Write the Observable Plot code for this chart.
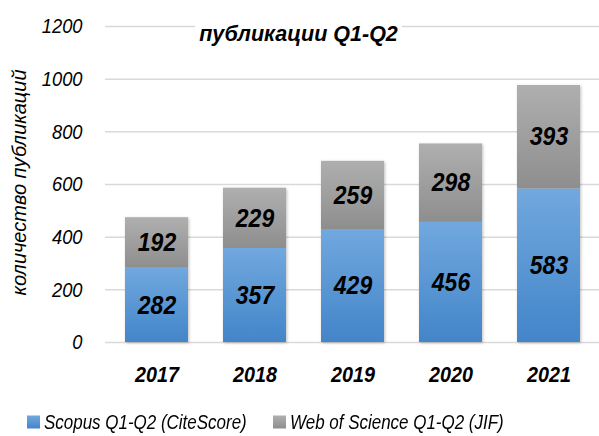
<!DOCTYPE html>
<html>
<head>
<meta charset="utf-8">
<script src="https://cdn.jsdelivr.net/npm/d3@7"></script>
<script src="https://cdn.jsdelivr.net/npm/@observablehq/plot@0.6"></script>
<style>
  body { margin: 0; background: #fff; }
  #chart { width: 599px; position: relative; }
  .legend { position: relative; height: 36px; width: 599px;
    font-family: "Liberation Sans", Arial, sans-serif;
    font-style: italic; font-size: 19.5px; color: #000; }
  .legend .item { position: absolute; top: 22px; transform: translateY(-50%); display: flex; align-items: center; white-space: nowrap; }
  .legend .sw { width: 13px; height: 13px; margin-right: 4px; }
  .legend .txt { display: inline-block; transform: scaleX(0.87); transform-origin: left center; }
</style>
</head>
<body>
<div id="chart"></div>
<script>
const years = ["2017", "2018", "2019", "2020", "2021"];
const seriesNames = ["Scopus Q1-Q2 (CiteScore)", "Web of Science Q1-Q2 (JIF)"];
const scopus = [282, 357, 429, 456, 583];
const wos = [192, 229, 259, 298, 393];
const yTicks = [0, 200, 400, 600, 800, 1000, 1200];
const title = "публикации Q1-Q2";
const yLabel = "количество публикаций";

const data = [];
years.forEach((yr, i) => {
  data.push({year: yr, series: seriesNames[0], value: scopus[i]});
  data.push({year: yr, series: seriesNames[1], value: wos[i]});
});

const font = '"Liberation Sans", Arial, sans-serif';

const plot = Plot.plot({
  width: 599,
  height: 400,
  marginLeft: 105,
  marginRight: 0,
  marginTop: 26,
  marginBottom: 58,
  style: {fontFamily: font, fontStyle: "italic", color: "#000", background: "#fff"},
  x: {domain: years, paddingInner: 0.36, paddingOuter: 0.18, label: null},
  y: {domain: [0, 1200], label: null},
  color: {domain: seriesNames, range: ["url(#gBlue)", "url(#gGray)"]},
  marks: [
    Plot.gridY(yTicks, {stroke: "#d9d9d9", strokeOpacity: 1, strokeWidth: 1.5}),
    Plot.axisY(yTicks, {tickSize: 0, tickPadding: 23, fontSize: 21, label: null, tickFormat: d => String(d)}),
    Plot.axisX({tickSize: 0, tickPadding: 24, fontSize: 21.5, fontWeight: "bold", label: null}),
    Plot.barY(data, {x: "year", y: "value", fill: "series", className: "bars"}),
    Plot.text(data, Plot.stackY({x: "year", y: "value", text: "value", fontSize: 25.5, fontWeight: "bold", fill: "#000", className: "barlabels"})),
    Plot.text([title], {frameAnchor: "top", dx: -54, dy: -1, fontSize: 21.5, fontWeight: "bold", fill: "#000", className: "title"}),
    Plot.text([yLabel], {frameAnchor: "left", textAnchor: "middle", rotate: -90, dx: -86, dy: -2, fontSize: 20, fill: "#000"})
  ]
});

const svg = d3.select(plot);
const defs = svg.insert("defs", ":first-child");
const gb = defs.append("linearGradient").attr("id", "gBlue").attr("x1", 0).attr("y1", 0).attr("x2", 0).attr("y2", 1);
gb.append("stop").attr("offset", "0%").attr("stop-color", "#71a8de");
gb.append("stop").attr("offset", "100%").attr("stop-color", "#4385c9");
const gg = defs.append("linearGradient").attr("id", "gGray").attr("x1", 0).attr("y1", 0).attr("x2", 0).attr("y2", 1);
gg.append("stop").attr("offset", "0%").attr("stop-color", "#afafaf");
gg.append("stop").attr("offset", "100%").attr("stop-color", "#8e8e8e");
const f = defs.append("filter").attr("id", "shadow").attr("x", "-20%").attr("y", "-20%").attr("width", "140%").attr("height", "140%");
f.append("feDropShadow").attr("dx", 1).attr("dy", 1).attr("stdDeviation", 1.5).attr("flood-color", "#000").attr("flood-opacity", 0.25);
svg.selectAll("g.bars").attr("filter", "url(#shadow)");

// narrow (Arial Narrow-like) rendering of the condensed texts
function squeeze(sel, k) {
  sel.each(function() {
    const t = this.getAttribute("transform") || "";
    this.setAttribute("transform", t + ` scale(${k},1)`);
  });
}
squeeze(svg.selectAll("g[aria-label='y-axis tick label'] text"), 0.87);
squeeze(svg.selectAll("g[aria-label='x-axis tick label'] text"), 0.92);
squeeze(svg.selectAll("g.barlabels text"), 0.9);

document.getElementById("chart").appendChild(plot);

// white box behind the title, hiding the top gridline like in the original
const titleText = svg.select("g.title text").node();
if (titleText) {
  const bb = titleText.getBBox();
  const g = titleText.parentNode;
  d3.select(g).insert("rect", "text")
    .attr("x", bb.x - 4).attr("y", bb.y).attr("width", bb.width + 8).attr("height", bb.height)
    .attr("transform", titleText.getAttribute("transform"))
    .attr("fill", "#fff");
}

const legend = document.createElement("div");
legend.className = "legend";
const swatchColors = ["linear-gradient(#71a8de, #4385c9)", "linear-gradient(#afafaf, #8e8e8e)"];
const itemLeft = [27, 273];
seriesNames.forEach((name, i) => {
  const item = document.createElement("div");
  item.className = "item";
  item.style.left = itemLeft[i] + "px";
  const sw = document.createElement("div");
  sw.className = "sw";
  sw.style.background = swatchColors[i];
  const t = document.createElement("span");
  t.className = "txt";
  t.textContent = name;
  item.appendChild(sw);
  item.appendChild(t);
  legend.appendChild(item);
});
document.getElementById("chart").appendChild(legend);
</script>
</body>
</html>
